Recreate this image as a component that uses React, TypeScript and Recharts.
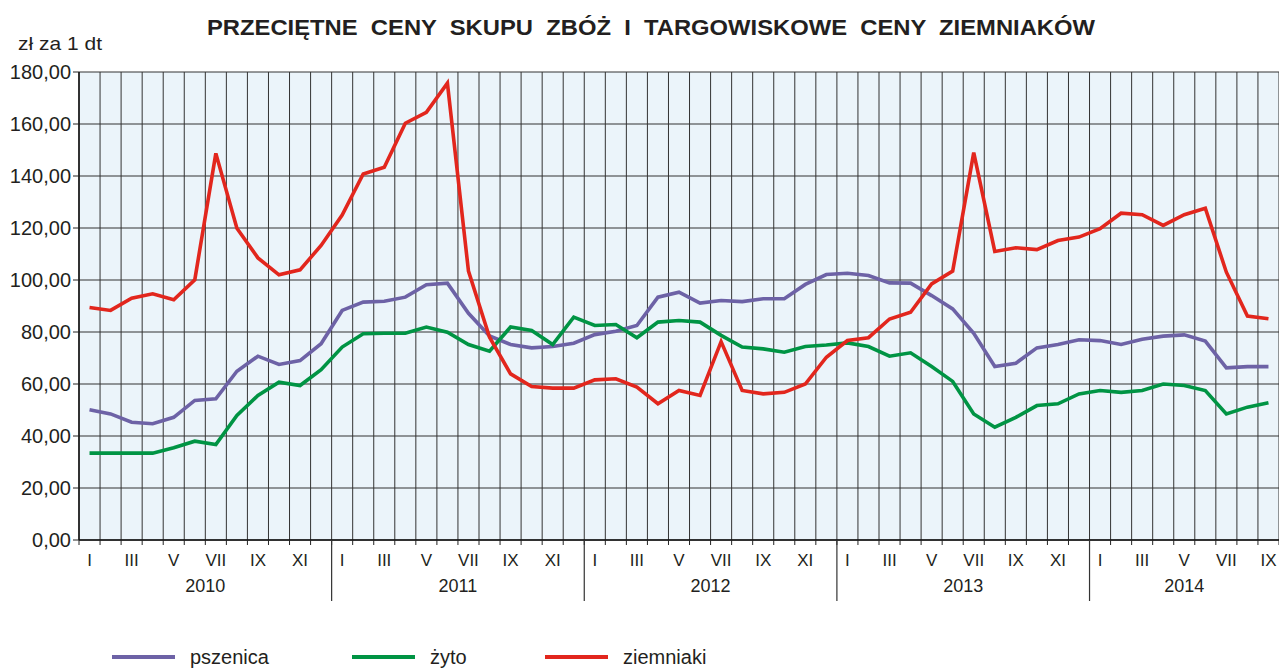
import React from 'react';
import { LineChart, Line, XAxis, YAxis, CartesianGrid } from 'recharts';

const romans = ['I', 'II', 'III', 'IV', 'V', 'VI', 'VII', 'VIII', 'IX', 'X', 'XI', 'XII'];
const years = ['2010', '2011', '2012', '2013', '2014'];
const monthsPerYear = [12, 12, 12, 12, 9];

const pszenica = [
  50.1, 48.5, 45.3, 44.7, 47.2, 53.7, 54.3, 64.9, 70.7, 67.5, 69.0, 75.5,
  88.3, 91.5, 91.8, 93.4, 98.2, 98.8, 87.2, 78.5, 75.2, 73.9, 74.4, 75.7,
  79.0, 80.3, 82.5, 93.4, 95.3, 91.1, 92.1, 91.7, 92.8, 92.8, 98.3, 102.1,
  102.6, 101.7, 98.9, 98.8, 94.0, 88.9, 79.5, 66.7, 68.0, 73.9, 75.2, 77.0,
  76.7, 75.2, 77.2, 78.4, 78.9, 76.5, 66.2, 66.7, 66.7,
];
const zyto = [
  33.4, 33.4, 33.4, 33.4, 35.5, 38.0, 36.7, 47.9, 55.6, 60.7, 59.4, 65.5,
  74.2, 79.3, 79.5, 79.5, 81.9, 79.9, 75.2, 72.6, 81.9, 80.6, 75.2, 85.7,
  82.5, 82.9, 77.8, 83.8, 84.4, 83.8, 78.7, 74.2, 73.5, 72.2, 74.4, 75.0,
  75.8, 74.4, 70.7, 72.0, 66.7, 61.0, 48.5, 43.4, 47.2, 51.7, 52.4, 56.2,
  57.5, 56.8, 57.5, 60.0, 59.4, 57.5, 48.5, 51.1, 52.8,
];
const ziemniaki = [
  89.4, 88.3, 93.0, 94.7, 92.4, 100.1, 148.7, 119.9, 108.5, 102.0, 103.9, 113.3,
  125.0, 140.8, 143.4, 160.3, 164.5, 175.7, 103.4, 78.0, 63.9, 59.0, 58.4, 58.4,
  61.6, 62.0, 58.8, 52.4, 57.5, 55.6, 76.3, 57.5, 56.2, 56.8, 60.0, 70.3,
  76.7, 77.8, 85.0, 87.6, 98.5, 103.4, 149.0, 111.0, 112.4, 111.7, 115.2, 116.5,
  119.7, 125.7, 125.1, 121.0, 125.1, 127.6, 103.0, 86.1, 85.1,
];
const yTicks = [0, 20, 40, 60, 80, 100, 120, 140, 160, 180];

const seriesMeta = [
  { key: 'pszenica', name: 'pszenica', color: '#6d62a6' },
  { key: 'zyto', name: 'żyto', color: '#009444' },
  { key: 'ziemniaki', name: 'ziemniaki', color: '#e2261d' },
];

const N = pszenica.length;
const data = pszenica.map((v, i) => ({
  t: i + 0.5,
  month: romans[i % 12],
  pszenica: v,
  zyto: zyto[i],
  ziemniaki: ziemniaki[i],
}));

// year info
const yearStarts: number[] = [];
const yearCenters: { t: number; label: string }[] = [];
{
  let s = 0;
  monthsPerYear.forEach((m, k) => {
    yearStarts.push(s);
    yearCenters.push({ t: s + m / 2, label: years[k] });
    s += m;
  });
}
const boundaries = Array.from({ length: N + 1 }, (_, i) => i);
const labelTicks = data.filter((_, i) => i % 2 === 0).map((d) => d.t);
const allTicks = Array.from(new Set([...boundaries, ...labelTicks, ...yearCenters.map((y) => y.t)])).sort((a, b) => a - b);

const XTick = (props: any) => {
  const { x, y, payload } = props;
  const v = payload.value as number;
  const els: any[] = [];
  if (Number.isInteger(v)) {
    els.push(<line key="t" x1={x} x2={x} y1={y} y2={y + 5} stroke="#222" strokeWidth={1} />);
    if (yearStarts.includes(v) && v > 0) {
      els.push(<line key="y" x1={x} x2={x} y1={y} y2={y + 61} stroke="#333" strokeWidth={1.2} />);
    }
  }
  const idx = v - 0.5;
  if (!Number.isInteger(v) && idx % 2 === 0 && idx >= 0 && idx < N) {
    els.push(
      <text key="m" x={x} y={y + 26} textAnchor="middle" fontSize={17} fill="#231f20">
        {data[idx].month}
      </text>
    );
  }
  const yc = yearCenters.find((yy) => yy.t === v);
  if (yc) {
    els.push(
      <text key="yl" x={x} y={y + 52} textAnchor="middle" fontSize={18} fill="#231f20">
        {yc.label}
      </text>
    );
  }
  return <g>{els}</g>;
};

const vGen = (p: any) => {
  const { xAxis, offset } = p;
  return boundaries.map((b) =>
    xAxis && typeof xAxis.scale === 'function' ? xAxis.scale(b) : offset.left + (b / N) * offset.width
  );
};

const fmt = (v: number) => v.toFixed(2).replace('.', ',');

export default function App() {
  return (
    <div
      style={{
        position: 'absolute',
        left: 0,
        top: 0,
        width: 1279,
        height: 668,
        background: '#fff',
        fontFamily: '"Liberation Sans", Arial, sans-serif',
      }}
    >
      <LineChart width={1279} height={668} data={data} margin={{ top: 72, right: 0, left: 0, bottom: 68 }}>
        <CartesianGrid
          fill="#ebf4fa"
          stroke="#333"
          strokeWidth={1}
          verticalCoordinatesGenerator={vGen}
        />
        <XAxis
          type="number"
          dataKey="t"
          domain={[0, N]}
          ticks={allTicks}
          interval={0}
          height={60}
          tickSize={0}
          tickMargin={0}
          tickLine={false}
          axisLine={{ stroke: '#111', strokeWidth: 1.5 }}
          tick={(p: any) => <XTick {...p} />}
          allowDataOverflow
        />
        <YAxis
          width={79}
          domain={[0, 180]}
          ticks={yTicks}
          interval={0}
          tickFormatter={fmt}
          tickSize={6}
          tickMargin={2}
          axisLine={{ stroke: '#111', strokeWidth: 1.5 }}
          tickLine={{ stroke: '#222' }}
          tick={{ fontSize: 20, fill: '#231f20' }}
        />
        {seriesMeta.map((s) => (
          <Line
            key={s.key}
            type="linear"
            dataKey={s.key}
            name={s.name}
            stroke={s.color}
            strokeWidth={3.6}
            dot={false}
            activeDot={false}
            isAnimationActive={false}
          />
        ))}
      </LineChart>
      <svg
        width={1279}
        height={668}
        style={{ position: 'absolute', left: 0, top: 0, pointerEvents: 'none' }}
      >
        <text
          x={651}
          y={35}
          textAnchor="middle"
          fontSize={22}
          fontWeight="bold"
          fill="#231f20"
          textLength={888}
          lengthAdjust="spacingAndGlyphs"
          style={{ whiteSpace: 'pre' }}
        >
          {'PRZECIĘTNE  CENY  SKUPU  ZBÓŻ  I  TARGOWISKOWE  CENY  ZIEMNIAKÓW'}
        </text>
        <text x={18} y={50} fontSize={19} fill="#231f20" textLength={84} lengthAdjust="spacingAndGlyphs">
          zł za 1 dt
        </text>
        {seriesMeta.map((s, i) => {
          const lx = [112, 352, 545][i];
          return (
            <g key={s.key}>
              <line x1={lx} x2={lx + 63} y1={657} y2={657} stroke={s.color} strokeWidth={4} />
              <text x={lx + 78} y={664} fontSize={20} fill="#231f20">
                {s.name}
              </text>
            </g>
          );
        })}
      </svg>
    </div>
  );
}
